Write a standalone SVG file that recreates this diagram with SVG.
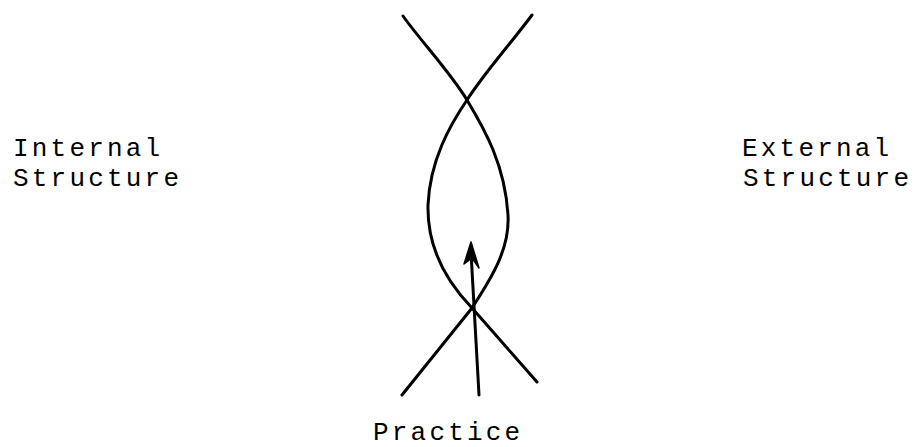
<svg xmlns="http://www.w3.org/2000/svg" width="918" height="447" viewBox="0 0 918 447">
<style>
.lbl{font-family:"Liberation Mono","Courier New",monospace;font-size:26px;letter-spacing:3.2px;fill:#000}
.ln{fill:none;stroke:#000;stroke-width:3;stroke-linecap:round;stroke-linejoin:round}
</style>
<rect width="918" height="447" fill="#fff"/>
<g id="connectors">
<path class="ln" d="M403,16 C420,40 450,72 467,100 C485,130 505,165 508,215 C510,250 490,280 472,308 L537,382"/>
<path class="ln" d="M532,15 C512,42 485,72 467,100 C450,125 430,160 428,205 C427,245 445,280 472,308 L402,395"/>
<path class="ln" d="M479,395 L471,252"/>
<polygon points="471,242 464,264 472,258 479,268" fill="#000" stroke="#000" stroke-width="1.5" stroke-linejoin="round"/>
</g>
<g id="internal"><text class="lbl" x="13" y="156">Internal</text><text class="lbl" x="13" y="186">Structure</text></g>
<g id="external"><text class="lbl" x="742" y="156">External</text><text class="lbl" x="743" y="186">Structure</text></g>
<g id="practice"><text class="lbl" x="373" y="440">Practice</text></g>
</svg>
